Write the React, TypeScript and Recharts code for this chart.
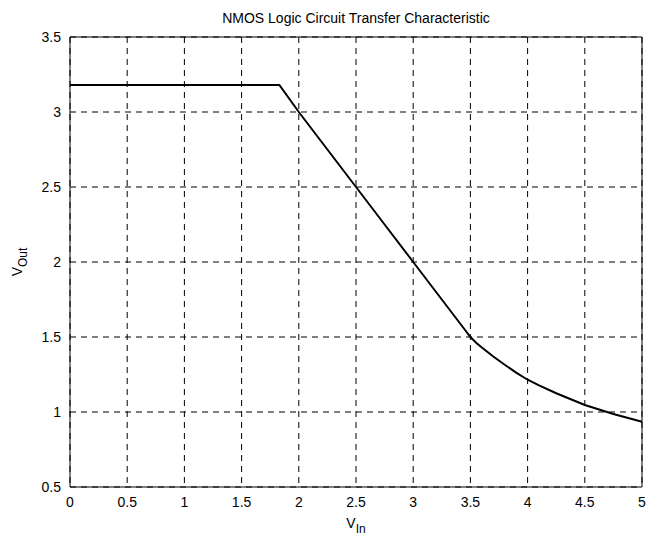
import React from "react";
import {
  LineChart,
  Line,
  XAxis,
  YAxis,
  CartesianGrid,
  ReferenceArea,
  Label,
} from "recharts";

const vIn = [0, 1.83, 2.0, 2.25, 2.5, 2.75, 3.0, 3.25, 3.45, 3.5, 3.55, 3.6, 3.7, 3.8, 3.9, 4.0, 4.1, 4.25, 4.5, 4.75, 5.0];
const vOut = [3.18, 3.18, 3.0, 2.75, 2.5, 2.25, 2.0, 1.75, 1.55, 1.5, 1.462, 1.43, 1.37, 1.315, 1.263, 1.215, 1.177, 1.125, 1.047, 0.987, 0.935];

const xTicks = [0, 0.5, 1, 1.5, 2, 2.5, 3, 3.5, 4, 4.5, 5];
const yTicks = [0.5, 1, 1.5, 2, 2.5, 3, 3.5];

const data = vIn.map((x, i) => ({ vin: x, vout: vOut[i] }));

const font = "Liberation Sans, Arial, sans-serif";

const App: React.FC = () => {
  return (
    <div style={{ position: "absolute", left: 0, top: 0, width: 652, height: 541, background: "#fff" }}>
      <div
        style={{
          position: "absolute",
          left: 70,
          width: 572,
          top: 10,
          textAlign: "center",
          fontFamily: font,
          fontSize: 14,
          color: "#000",
        }}
      >
        NMOS Logic Circuit Transfer Characteristic
      </div>
      <LineChart
        width={652}
        height={541}
        data={data}
        margin={{ top: 37, right: 10, left: 0, bottom: 0 }}
      >
        <CartesianGrid stroke="#000" strokeDasharray="6 5" />
        <XAxis
          dataKey="vin"
          type="number"
          domain={[0, 5]}
          ticks={xTicks}
          height={54}
          axisLine={false}
          tickLine={false}
          tickMargin={4}
          tick={{ fill: "#000", fontSize: 14, fontFamily: font }}
          interval={0}
        >
          <Label
            content={() => (
              <text x={356} y={528} textAnchor="middle" fontFamily={font} fontSize={14} fill="#000">
                V<tspan dy={5} fontSize={12}>In</tspan>
              </text>
            )}
          />
        </XAxis>
        <YAxis
          type="number"
          domain={[0.5, 3.5]}
          ticks={yTicks}
          width={70}
          axisLine={false}
          tickLine={false}
          tickMargin={3}
          tick={{ fill: "#000", fontSize: 14, fontFamily: font }}
          interval={0}
        >
          <Label
            content={() => (
              <text
                x={22}
                y={262}
                textAnchor="middle"
                fontFamily={font}
                fontSize={14}
                fill="#000"
                transform="rotate(-90 22 262)"
              >
                V<tspan dy={5} fontSize={12}>Out</tspan>
              </text>
            )}
          />
        </YAxis>
        <ReferenceArea x1={0} x2={5} y1={0.5} y2={3.5} fill="none" stroke="#000" strokeWidth={1} ifOverflow="visible" />
        <Line
          type="linear"
          dataKey="vout"
          stroke="#000"
          strokeWidth={2}
          dot={false}
          isAnimationActive={false}
        />
      </LineChart>
    </div>
  );
};

export default App;
